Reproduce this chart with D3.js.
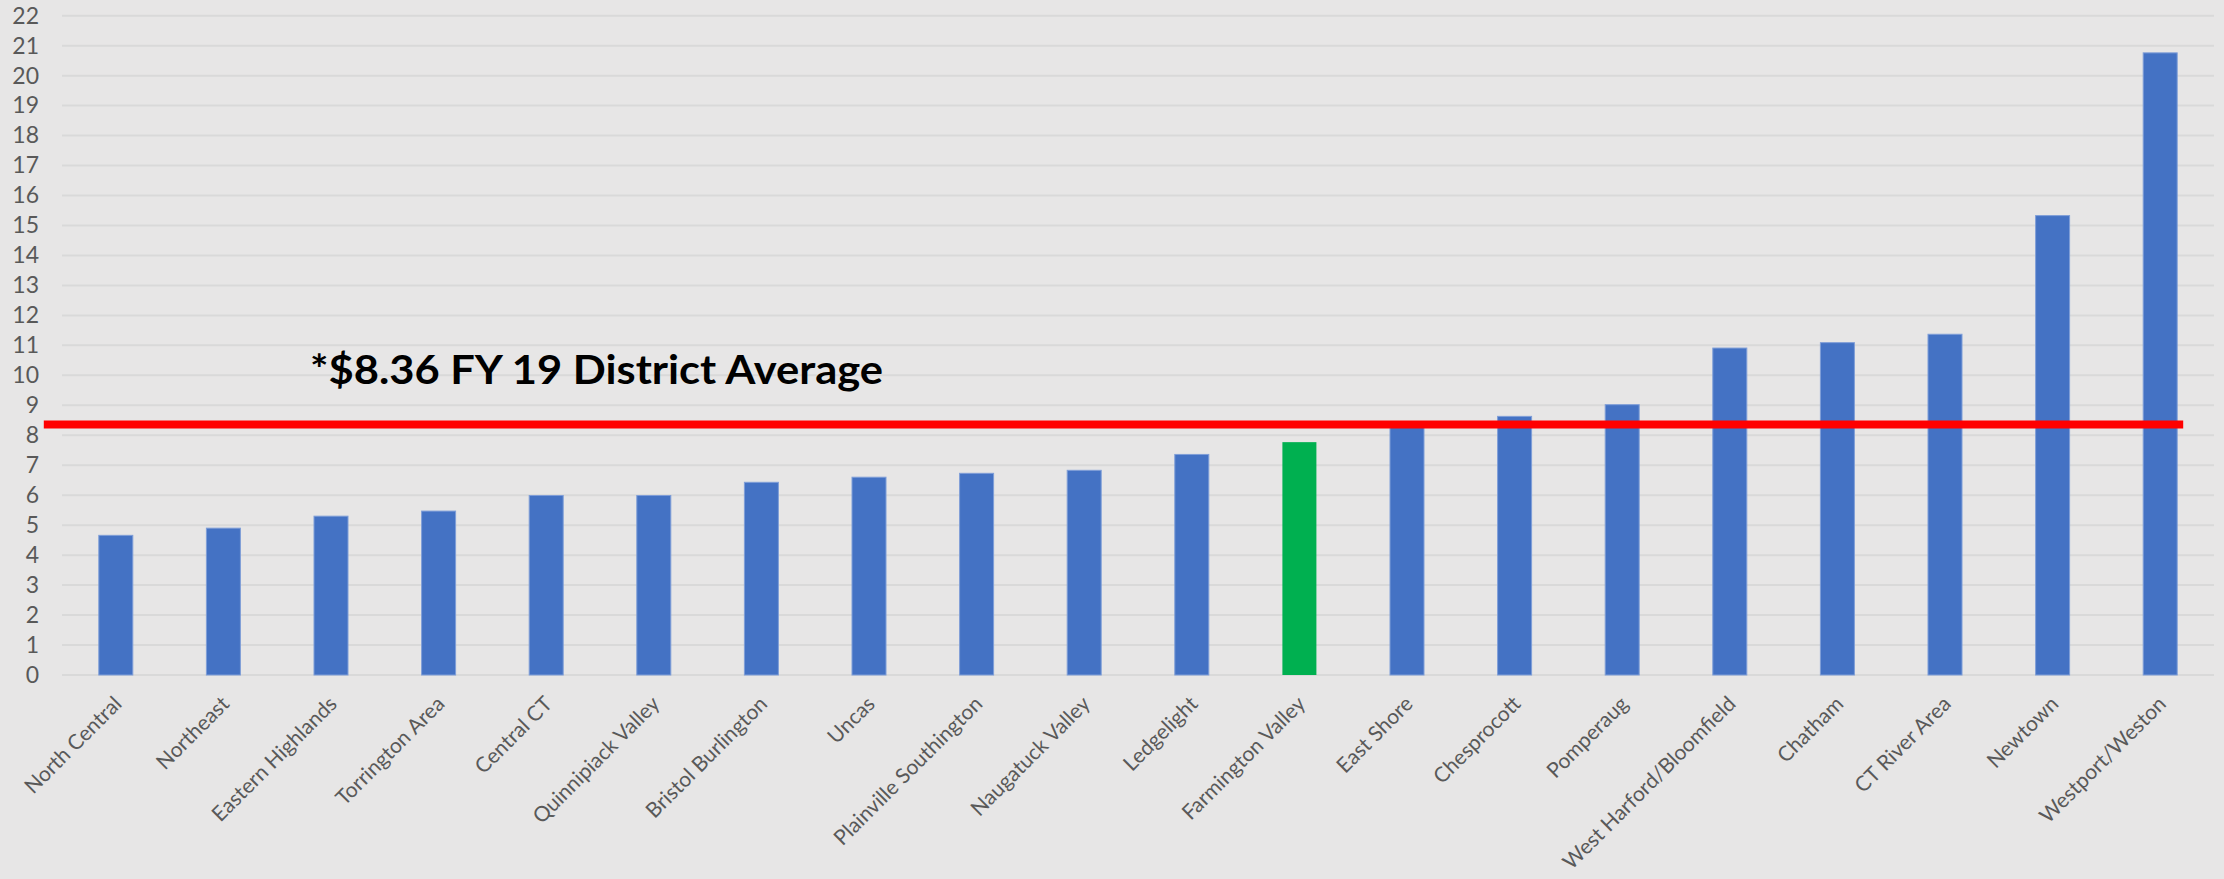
<!DOCTYPE html>
<html>
<head>
<meta charset="utf-8">
<script src="https://cdn.jsdelivr.net/npm/d3@7"></script>
<style>
  html, body { margin: 0; padding: 0; background: #e7e6e6; }
  svg { display: block; }
  .tick-label { font-family: Lato, "Open Sans", sans-serif; font-size: 21px; fill: #595959; }
  .y-label { font-size: 23px; }
</style>
</head>
<body>
<div id="chart"></div>
<script>
// Data
const districts = ["North Central", "Northeast", "Eastern Highlands", "Torrington Area", "Central CT",
  "Quinnipiack Valley", "Bristol Burlington", "Uncas", "Plainville Southington", "Naugatuck Valley",
  "Ledgelight", "Farmington Valley", "East Shore", "Chesprocott", "Pomperaug",
  "West Harford/Bloomfield", "Chatham", "CT River Area", "Newtown", "Westport/Weston"];
const costs = [4.66, 4.9, 5.3, 5.47, 5.99, 5.99, 6.43, 6.6, 6.73, 6.83,
  7.36, 7.77, 8.38, 8.63, 9.02, 10.91, 11.09, 11.37, 15.33, 20.76];
const highlight = ["Farmington Valley"];
const yTicks = d3.range(0, 23);
const averageValue = 8.36;
const averageLabel = "*$8.36 FY 19 District Average";

// Config
const W = 2224, H = 879;
const margin = { top: 15.7, right: 10, bottom: 204, left: 62 };
const colors = { bar: "#4472c4", barEdge: "#7f9ed8", highlight: "#00b050", avg: "#ff0000", grid: "#d9d9d9" };

const svg = d3.select("#chart").append("svg")
    .attr("width", W)
    .attr("height", H);

const x = d3.scaleBand()
    .domain(districts)
    .range([margin.left, W - margin.right])
    .paddingInner(0.684)
    .paddingOuter(0.342);

const y = d3.scaleLinear()
    .domain([0, 22])
    .range([H - margin.bottom, margin.top]);

// Gridlines
svg.append("g")
    .selectAll("line")
    .data(yTicks)
    .enter().append("line")
    .attr("x1", margin.left)
    .attr("x2", W - margin.right)
    .attr("y1", d => y(d))
    .attr("y2", d => y(d))
    .attr("stroke", colors.grid)
    .attr("stroke-width", 2);

// Y axis labels
const yAxis = svg.append("g")
    .attr("transform", `translate(${margin.left},0)`)
    .call(d3.axisLeft(y).tickValues(yTicks).tickSize(0).tickPadding(23));
yAxis.select(".domain").remove();
yAxis.selectAll("text").attr("class", "tick-label y-label").attr("fill", null);

// Bars
const data = districts.map((d, i) => ({ name: d, value: costs[i] }));
svg.append("g")
    .selectAll("rect")
    .data(data)
    .enter().append("rect")
    .attr("x", d => x(d.name))
    .attr("y", d => y(d.value))
    .attr("width", x.bandwidth())
    .attr("height", d => y(0) - y(d.value))
    .attr("fill", d => highlight.includes(d.name) ? colors.highlight : colors.bar)
    .attr("stroke", d => highlight.includes(d.name) ? "none" : colors.barEdge)
    .attr("stroke-width", 1);

// X axis labels (rotated)
svg.append("g")
    .selectAll("text")
    .data(districts)
    .enter().append("text")
    .attr("class", "tick-label")
    .attr("text-anchor", "end")
    .attr("dy", "0.35em")
    .attr("transform", d => `translate(${x(d) + x.bandwidth() / 2 + 2},${y(0) + 25}) rotate(-45)`)
    .text(d => d);

// District average line
const first = x(districts[0]);
const last = x(districts[districts.length - 1]) + x.bandwidth();
svg.append("line")
    .attr("x1", first - 55)
    .attr("x2", last + 6)
    .attr("y1", y(averageValue))
    .attr("y2", y(averageValue))
    .attr("stroke", colors.avg)
    .attr("stroke-width", 8);

svg.append("text")
    .attr("x", 310)
    .attr("y", y(averageValue) - 40)
    .attr("textLength", 573)
    .attr("lengthAdjust", "spacingAndGlyphs")
    .style("font-family", "Lato, 'Open Sans', sans-serif")
    .style("font-weight", "bold")
    .style("font-size", "41px")
    .style("fill", "#000")
    .text(averageLabel);
</script>
</body>
</html>
